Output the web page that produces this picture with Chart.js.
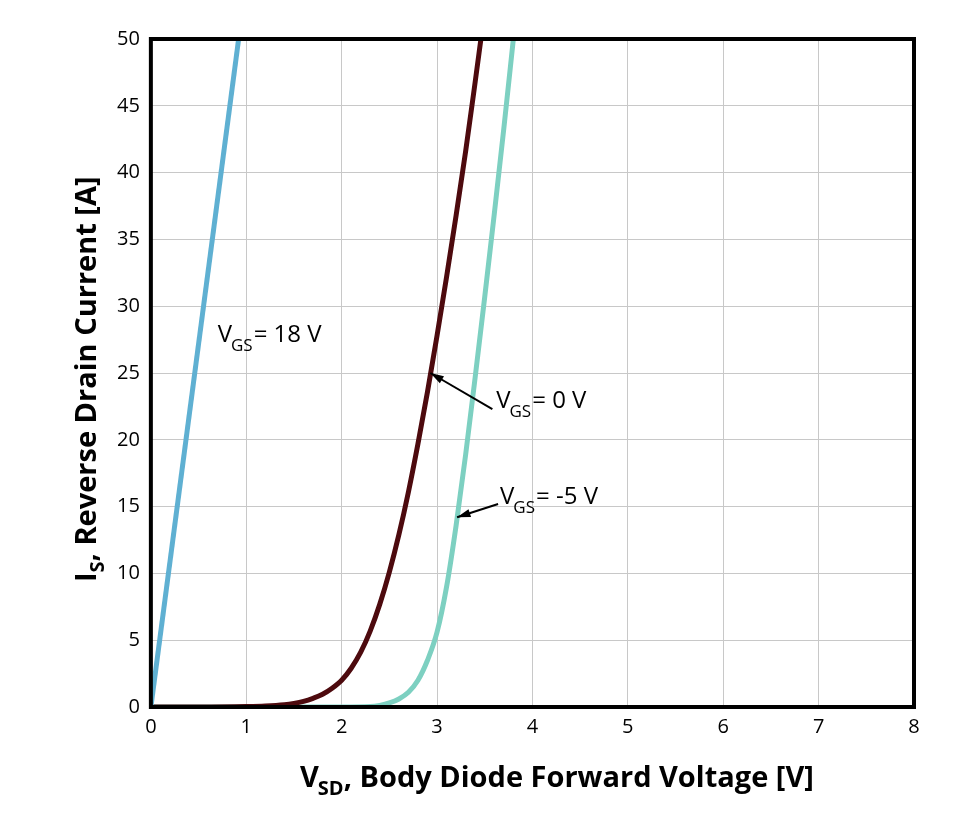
<!DOCTYPE html>
<html>
<head>
<meta charset="utf-8">
<script src="https://cdn.jsdelivr.net/npm/chart.js@4"></script>
<style>
  body { margin: 0; background: #fff; }
  canvas { display: block; }
</style>
</head>
<body>
<canvas id="myChart" width="980" height="830"></canvas>
<script>
// VGS = 18 V
var vsd18 = [0, 0.92];
var is18 = [0, 50];
// VGS = 0 V
var vsd0 = [0, 0.5, 1.0, 1.2, 1.4, 1.5, 1.6, 1.7, 1.8, 1.9, 2.0, 2.1, 2.2, 2.3, 2.4, 2.5, 2.6, 2.7, 2.8, 2.9, 3.0, 3.1, 3.2, 3.3, 3.4, 3.46];
var is0 = [0, 0.0, 0.03, 0.07, 0.17, 0.27, 0.42, 0.65, 0.95, 1.4, 2.0, 2.9, 4.1, 5.7, 7.7, 10.1, 12.9, 16.1, 19.7, 23.6, 27.8, 32.2, 36.8, 41.6, 46.8, 50];
// VGS = -5 V
var vsdN5 = [0, 2.0, 2.3, 2.4, 2.5, 2.6, 2.7, 2.8, 2.9, 3.0, 3.1, 3.2, 3.3, 3.4, 3.5, 3.6, 3.7, 3.8];
var isN5 = [0, 0, 0.03, 0.12, 0.3, 0.6, 1.1, 2.0, 3.5, 5.6, 9.0, 13.6, 18.9, 24.7, 30.7, 36.9, 43.3, 50];

var xTicks = [0, 1, 2, 3, 4, 5, 6, 7, 8];
var yTicks = [0, 5, 10, 15, 20, 25, 30, 35, 40, 45, 50];

// curve labels: subscript, rest of text, anchor (data coords), arrow tail/tip (data coords)
var labels = [
  { sub: 'GS', rest: '= 18 V', x: 0.70, y: 27.8 },
  { sub: 'GS', rest: '= 0 V', x: 3.62, y: 22.9, tail: [3.58, 22.3], tip: [2.93, 25] },
  { sub: 'GS', rest: '= -5 V', x: 3.66, y: 15.7, tail: [3.64, 15.2], tip: [3.21, 14.2] }
];

function pts(xs, ys) {
  return xs.map(function (x, i) { return { x: x, y: ys[i] }; });
}

var FONT = '"Open Sans", "Noto Sans", sans-serif';

var decor = {
  id: 'decor',
  afterDatasetsDraw: function (chart) {
    var c = chart.ctx, a = chart.chartArea;
    var xs = chart.scales.x, ys = chart.scales.y;
    c.save();
    // frame
    c.strokeStyle = '#000';
    c.lineWidth = 4;
    c.strokeRect(a.left, a.top, a.right - a.left, a.bottom - a.top);

    // annotations
    c.fillStyle = '#000';
    c.textBaseline = 'middle';
    labels.forEach(function (l) {
      var px = xs.getPixelForValue(l.x), py = ys.getPixelForValue(l.y);
      c.font = '24px ' + FONT;
      c.fillText('V', px, py);
      var w = c.measureText('V').width;
      c.font = '17px ' + FONT;
      c.fillText(l.sub, px + w - 1, py + 11);
      var w2 = c.measureText(l.sub).width;
      c.font = '24px ' + FONT;
      c.fillText(l.rest, px + w + w2, py);
      if (l.tail) {
        var x1 = xs.getPixelForValue(l.tail[0]), y1 = ys.getPixelForValue(l.tail[1]);
        var x2 = xs.getPixelForValue(l.tip[0]), y2 = ys.getPixelForValue(l.tip[1]);
        c.lineWidth = 2;
        c.beginPath();
        c.moveTo(x1, y1);
        c.lineTo(x2, y2);
        c.stroke();
        var ang = Math.atan2(y2 - y1, x2 - x1);
        c.beginPath();
        c.moveTo(x2, y2);
        c.lineTo(x2 - 14 * Math.cos(ang - 0.3), y2 - 14 * Math.sin(ang - 0.3));
        c.lineTo(x2 - 14 * Math.cos(ang + 0.3), y2 - 14 * Math.sin(ang + 0.3));
        c.closePath();
        c.fill();
      }
    });

    // x axis title
    c.textBaseline = 'alphabetic';
    var tx = 300, ty = 787;
    c.font = 'bold 29px ' + FONT;
    c.fillText('V', tx, ty);
    var vw = c.measureText('V').width;
    c.font = 'bold 20px ' + FONT;
    c.fillText('SD', tx + vw - 1, ty + 8);
    var sw = c.measureText('SD').width;
    c.font = 'bold 29px ' + FONT;
    c.fillText(', Body Diode Forward Voltage [V]', tx + vw + sw - 1, ty);

    // y axis title
    c.translate(96, 582);
    c.rotate(-Math.PI / 2);
    c.font = 'bold 29px ' + FONT;
    c.fillText('I', 0, 0);
    var iw = c.measureText('I').width;
    c.font = 'bold 20px ' + FONT;
    c.fillText('S', iw, 8);
    var ssw = c.measureText('S').width;
    c.font = 'bold 29px ' + FONT;
    c.fillText(', Reverse Drain Current [A]', iw + ssw, 0);
    c.restore();
  }
};

var ctx = document.getElementById('myChart').getContext('2d');
var chart = new Chart(ctx, {
  type: 'scatter',
  data: {
    datasets: [
      { label: 'VGS = 18 V', data: pts(vsd18, is18), borderColor: '#5fb0d2' },
      { label: 'VGS = 0 V', data: pts(vsd0, is0), borderColor: '#4d0a0e' },
      { label: 'VGS = -5 V', data: pts(vsdN5, isN5), borderColor: '#7dd0c1' }
    ].map(function (d) {
      d.showLine = true;
      d.borderWidth = 5;
      d.pointRadius = 0;
      d.cubicInterpolationMode = 'monotone';
      d.fill = false;
      return d;
    })
  },
  options: {
    responsive: false,
    animation: false,
    layout: { padding: { left: 106, top: 39, right: 66, bottom: 83 } },
    plugins: { legend: { display: false }, tooltip: { enabled: false } },
    scales: {
      x: {
        type: 'linear', min: 0, max: 8,
        afterBuildTicks: function (s) { s.ticks = xTicks.map(function (v) { return { value: v }; }); },
        grid: { color: '#c8c8c8', lineWidth: 1, drawTicks: false },
        border: { display: false },
        ticks: { color: '#000', padding: 8, font: { family: FONT, size: 20 } }
      },
      y: {
        type: 'linear', min: 0, max: 50,
        afterBuildTicks: function (s) { s.ticks = yTicks.map(function (v) { return { value: v }; }); },
        grid: { color: '#c8c8c8', lineWidth: 1, drawTicks: false },
        border: { display: false },
        ticks: { color: '#000', padding: 11, font: { family: FONT, size: 20 } }
      }
    }
  },
  plugins: [decor]
});
</script>
</body>
</html>
